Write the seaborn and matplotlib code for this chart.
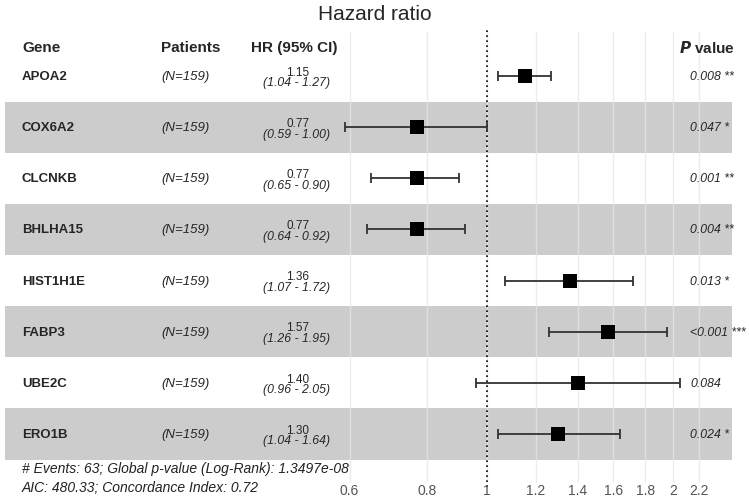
"""
Forest plot of Cox hazard ratios (ggforest style) redrawn with seaborn/matplotlib
"""

import numpy as np
import pandas as pd
import matplotlib
matplotlib.use("Agg")
import matplotlib.pyplot as plt
import seaborn as sns

# ─────────────────────────────────────────────
# 0. DATA
# ─────────────────────────────────────────────
genes    = ["APOA2", "COX6A2", "CLCNKB", "BHLHA15", "HIST1H1E", "FABP3", "UBE2C", "ERO1B"]
patients = ["(N=159)"] * 8
hr       = [1.15, 0.77, 0.77, 0.77, 1.36, 1.57, 1.40, 1.30]
ci_low   = [1.04, 0.59, 0.65, 0.64, 1.07, 1.26, 0.96, 1.04]
ci_high  = [1.27, 1.00, 0.90, 0.92, 1.72, 1.95, 2.05, 1.64]
p_labels = ["0.008 **", "0.047 *", "0.001 **", "0.004 **", "0.013 *", "<0.001 ***", "0.084", "0.024 *"]
x_ticks  = [0.6, 0.8, 1, 1.2, 1.4, 1.6, 1.8, 2, 2.2]
tick_lbl = ["0.6", "0.8", "1", "1.2", "1.4", "1.6", "1.8", "2", "2.2"]
footer   = ["# Events: 63; Global p-value (Log-Rank): 1.3497e-08",
            "AIC: 480.33; Concordance Index: 0.72"]

df = pd.DataFrame({"gene": genes, "hr": hr, "lo": ci_low, "hi": ci_high})
df["row"] = np.arange(len(df), 0, -1)      # top row = 8, bottom row = 1

# ─────────────────────────────────────────────
# 1. STYLE
# ─────────────────────────────────────────────
sns.set_theme(style="white")
plt.rcParams["font.family"] = ["Liberation Sans", "DejaVu Sans"]

W, H = 749, 502
fig = plt.figure(figsize=(W / 100, H / 100), dpi=100)
ax = fig.add_axes([0, 0, 1, 1])
ax.set_xscale("log")
ax.set_xlim(0.1636, 2.648)
ax.set_ylim(-0.310, 9.506)

def px(x):                 # pixel column -> axes fraction
    return x / W

lbl = ax.get_yaxis_transform()   # x in axes fraction, y in data

BAND = "#cccccc"
# alternating bands
for r in df["row"]:
    if r % 2 == 1:
        ax.axhspan(r - 0.5, r + 0.5, xmin=px(5), xmax=px(732), color=BAND, lw=0, zorder=1)

# vertical grid + reference line
ax.vlines(x_ticks, 0.06, 8.88, color="#e6e6e6", lw=1.0, alpha=0.75, zorder=2)
ax.vlines(1, -0.04, 8.92, color="black", lw=1.2, linestyles=(0, (1, 2)), zorder=3)

# CI bars + squares
ax.errorbar(df["hr"], df["row"],
            xerr=[df["hr"] - df["lo"], df["hi"] - df["hr"]],
            fmt="none", ecolor="#333333", elinewidth=1.3, capsize=3.5, capthick=1.3, zorder=4)
sns.scatterplot(data=df, x="hr", y="row", marker="s", s=115, color="black",
                edgecolor="black", linewidth=0, ax=ax, zorder=5, legend=False)
ax.axis("off")

# ─────────────────────────────────────────────
# 2. TABLE TEXT
# ─────────────────────────────────────────────
HEAD_Y = 8.567
ax.text(0.5, 9.23, "Hazard ratio", transform=lbl, ha="center", va="center", fontsize=15)
ax.text(px(22), HEAD_Y, "Gene", transform=lbl, ha="left", va="center", fontsize=11, fontweight="bold")
ax.text(px(191), HEAD_Y, "Patients", transform=lbl, ha="center", va="center", fontsize=11, fontweight="bold")
ax.text(px(294), HEAD_Y, "HR (95% CI)", transform=lbl, ha="center", va="center", fontsize=11, fontweight="bold")
ax.text(px(735), HEAD_Y, r"$\bfit{P}$ value", transform=lbl, ha="right", va="center",
        fontsize=11, fontweight="bold")

for i, row in df.iterrows():
    y = row["row"]
    ax.text(px(22), y, row["gene"], transform=lbl, ha="left", va="center", fontsize=9.5, fontweight="bold")
    ax.text(px(185), y, patients[i], transform=lbl, ha="center", va="center", fontsize=9.5, style="italic")
    ax.text(px(298), y + 0.085, f"{row['hr']:.2f}", transform=lbl, ha="center", va="center", fontsize=8.5)
    ax.text(px(297), y - 0.125, f"({row['lo']:.2f} - {row['hi']:.2f})", transform=lbl,
            ha="center", va="center", fontsize=8.8, style="italic")
    ax.text(px(690), y, p_labels[i], transform=lbl, ha="left", va="center", fontsize=8.8, style="italic")

# x tick labels
for t, s in zip(x_ticks, tick_lbl):
    ax.text(t, -0.095, s, ha="center", va="center", fontsize=10, color="#555555")

# footer
ax.text(px(22), 0.335, footer[0], transform=lbl, ha="left", va="center", fontsize=10, style="italic", color="#222222")
ax.text(px(22), -0.036, footer[1], transform=lbl, ha="left", va="center", fontsize=10, style="italic", color="#222222")

fig.savefig("out.png", dpi=100)
